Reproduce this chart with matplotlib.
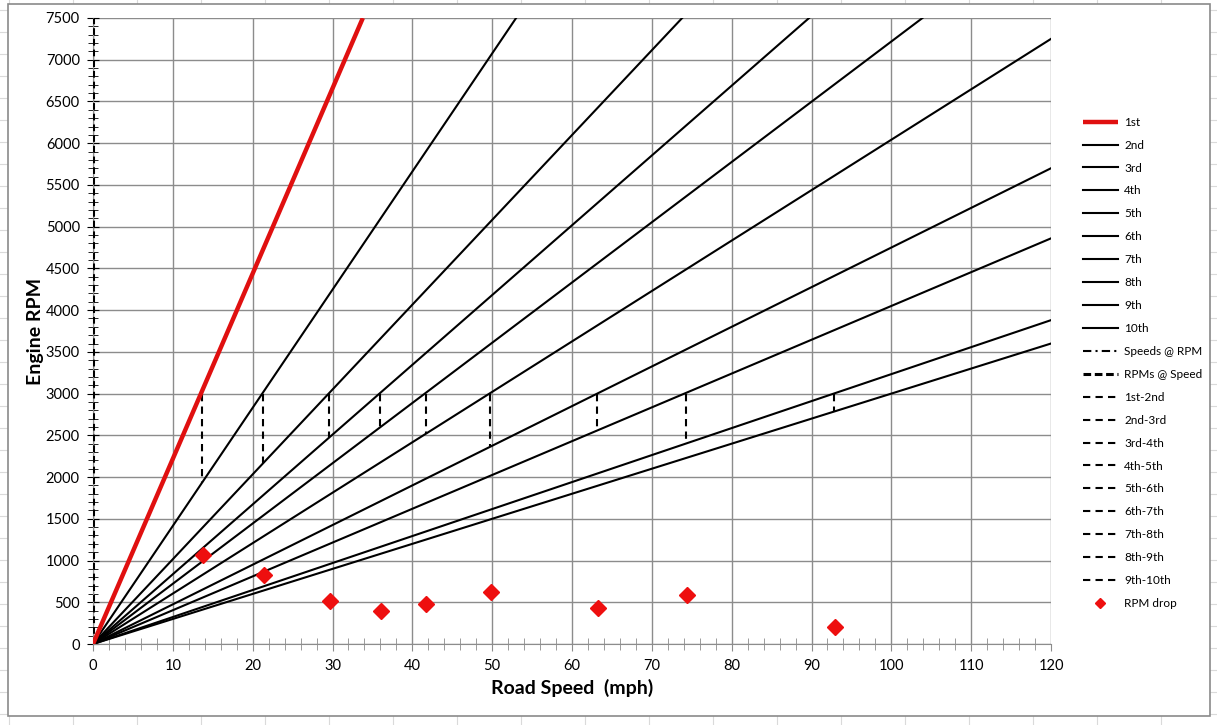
import matplotlib.pyplot as plt
from matplotlib.lines import Line2D
from matplotlib.patches import Rectangle
from matplotlib.ticker import MultipleLocator

plt.rcParams['font.family'] = ['Lato', 'DejaVu Sans']

# gear lines: each runs from the origin to the point where it leaves the chart
gears = ["1st", "2nd", "3rd", "4th", "5th", "6th", "7th", "8th", "9th", "10th"]
gear_end_mph = [33.8, 53.0, 73.8, 89.7, 103.9, 120, 120, 120, 120, 120]
gear_end_rpm = [7500, 7500, 7500, 7500, 7500, 7250, 5700, 4860, 3880, 3600]

# shifts at 3000 rpm, dashed drop down to next gear
shifts = ["1st-2nd", "2nd-3rd", "3rd-4th", "4th-5th", "5th-6th",
          "6th-7th", "7th-8th", "8th-9th", "9th-10th"]
shift_mph = [13.7, 21.3, 29.6, 36.0, 41.7, 49.7, 63.1, 74.3, 92.8]
shift_top = [3000] * 9
shift_bottom = [1934, 2173, 2485, 2605, 2521, 2377, 2569, 2413, 2796]

# rpm drop markers
drop_mph = [13.8, 21.4, 29.7, 36.1, 41.7, 49.9, 63.3, 74.4, 92.9]
drop_rpm = [1066, 827, 515, 395, 479, 623, 431, 587, 204]

W, H = 1217, 725
fig = plt.figure(figsize=(W / 100, H / 100), dpi=100)

# spreadsheet cells behind the chart
for x in range(9, W, 64):
    fig.add_artist(Line2D([x / W, x / W], [0, 1], color="#dadada", lw=0.8, zorder=0))
for y in range(10, H, 22):
    fig.add_artist(Line2D([0, 1], [1 - y / H, 1 - y / H], color="#dadada", lw=0.8, zorder=0))
fig.add_artist(Rectangle((8 / W, 1 - 716 / H), (1210 - 8) / W, (716 - 4) / H,
                         facecolor="white", edgecolor="#8a8a8a", lw=1.2, zorder=1))

ax = fig.add_axes([93 / W, 1 - 644 / H, (1051 - 93) / W, (644 - 18) / H], zorder=2)
ax.patch.set_alpha(0)

handles = []
for i, g in enumerate(gears):
    if i == 0:
        h, = ax.plot([0, gear_end_mph[i]], [0, gear_end_rpm[i]], color="#e01010", lw=3.2,
                     label=g, zorder=4, solid_capstyle="butt")
    else:
        h, = ax.plot([0, gear_end_mph[i]], [0, gear_end_rpm[i]], color="black", lw=1.5,
                     label=g, zorder=3)
    handles.append(h)

# y axis marker series drawn at 0 mph
h_spd, = ax.plot([0, 0], [0, 7500], color="black", lw=1.5, ls=(0, (4, 2, 1, 2)),
                 label="Speeds @ RPM", zorder=2)
ax.plot([0, 0], [0, 7500], color="black", lw=2.2, ls=(0, (2.2, 1.3)), zorder=3)
h_rpm = Line2D([], [], color="black", lw=2.2, ls=(0, (2.5, 1.2)), label="RPMs @ Speed")
handles += [h_spd, h_rpm]

for i, s in enumerate(shifts):
    h, = ax.plot([shift_mph[i], shift_mph[i]], [shift_top[i], shift_bottom[i]],
                 color="black", lw=1.5, ls=(0, (3.5, 2.5)), label=s, zorder=3)
    handles.append(h)

h_drop, = ax.plot(drop_mph, drop_rpm, ls="none", marker="D", ms=8.5, color="#ee0f0f",
                  label="RPM drop", zorder=5)
handles.append(h_drop)

ax.set_xlim(0, 120)
ax.set_ylim(0, 7500)
ax.xaxis.set_major_locator(MultipleLocator(10))
ax.xaxis.set_minor_locator(MultipleLocator(2))
ax.yaxis.set_major_locator(MultipleLocator(500))
ax.yaxis.set_minor_locator(MultipleLocator(100))
ax.grid(True, which="major", color="#8c8c8c", lw=1.0)
ax.set_axisbelow(True)
for sp in ["top", "right"]:
    ax.spines[sp].set_visible(False)
ax.spines["bottom"].set_color("#8c8c8c")
ax.spines["left"].set_color("#8c8c8c")
ax.tick_params(axis="x", which="major", direction="out", length=5, color="#8c8c8c",
               labelsize=10.5, pad=6)
ax.tick_params(axis="x", which="minor", direction="inout", length=8, color="#8c8c8c")
ax.tick_params(axis="y", which="major", direction="inout", length=9, color="black",
               labelsize=10.5, pad=5)
ax.tick_params(axis="y", which="minor", direction="inout", length=7, color="black")

ax.set_xlabel("Road Speed  (mph)", fontsize=14, fontweight="bold", labelpad=4)
ax.set_ylabel("Engine RPM", fontsize=14, fontweight="bold", labelpad=1)

fig.legend(handles=handles, loc="upper left", bbox_to_anchor=(1078 / W, 1 - 112 / H),
           frameon=False, fontsize=8.5, handlelength=3.0, handletextpad=0.5,
           labelspacing=1.01, borderaxespad=0, markerscale=0.55)

fig.savefig("out.png", dpi=100)
